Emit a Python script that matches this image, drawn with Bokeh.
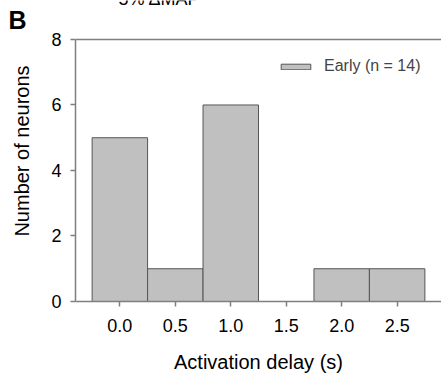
from bokeh.plotting import figure
from bokeh.models import (Span, Label, Legend, LegendItem, FixedTicker, NumeralTickFormatter,
                          ColumnDataSource, LinearAxis)
from bokeh.embed import file_html
from bokeh.resources import INLINE

bin_centers = [0.0, 0.5, 1.0, 1.5, 2.0, 2.5]
counts = [5, 1, 6, 0, 1, 1]
bin_width = 0.5
x_ticks = [0.0, 0.5, 1.0, 1.5, 2.0, 2.5]
y_ticks = [0, 2, 4, 6, 8]
legend_label = "Early (n = 14)"
panel_label = "B"
top_fragment = "5% ΔMAP"

FONT = "Liberation Sans"
AX = "#7f7f7f"
Y_MAX = 8
Y_VIEW_TOP = 9.19   # frame extends to the page top; axis stops at Y_MAX
B_POS = 8.58        # vertical position of the panel letter

p = figure(width=441, height=377, output_backend="svg", toolbar_location=None,
           x_range=(-0.4, 2.9), y_range=(0, Y_VIEW_TOP),
           min_border_left=75, min_border_right=0, min_border_top=0, min_border_bottom=76)
p.outline_line_color = None
p.grid.visible = False
p.background_fill_color = "white"

src = ColumnDataSource(dict(x=bin_centers, top=counts))
r = p.vbar(x="x", top="top", width=bin_width, source=src,
           fill_color="#c0c0c0", line_color="#555555", line_width=1)

p.add_layout(Span(location=Y_MAX, dimension="width", line_color=AX, line_width=1.5))

for ax in (p.xaxis[0], p.yaxis[0]):
    ax.axis_line_color = AX
    ax.axis_line_width = 1.5
    ax.major_tick_line_color = AX
    ax.major_tick_line_width = 1.5
    ax.major_tick_out = 5
    ax.major_tick_in = 0
    ax.minor_tick_line_color = None
    ax.major_label_text_font = FONT
    ax.major_label_text_font_size = "18px"
    ax.major_label_text_color = "black"
    ax.axis_label_text_font = FONT
    ax.axis_label_text_font_size = "20px"
    ax.axis_label_text_font_style = "normal"
    ax.axis_label_text_color = "black"

p.xaxis.ticker = FixedTicker(ticks=x_ticks)
p.xaxis.formatter = NumeralTickFormatter(format="0.0")
p.xaxis.major_label_standoff = 12
p.xaxis.axis_label = "Activation delay (s)"
p.xaxis.axis_label_standoff = 16

p.yaxis.ticker = FixedTicker(ticks=y_ticks)
p.yaxis.bounds = (0, Y_MAX)
p.yaxis.major_label_standoff = 9
p.yaxis.axis_label = "Number of neurons"
p.yaxis.axis_label_standoff = 15

# panel letter as an outer, line-less left axis label
b_axis = LinearAxis(ticker=FixedTicker(ticks=[B_POS]),
                    major_label_overrides={B_POS: panel_label},
                    axis_line_color=None, major_tick_line_color=None,
                    minor_tick_line_color=None, major_tick_out=0, major_tick_in=0,
                    major_label_standoff=-18,
                    major_label_text_font=FONT, major_label_text_font_style="bold",
                    major_label_text_font_size="25px", major_label_text_color="black")
p.add_layout(b_axis, "left")

legend = Legend(items=[LegendItem(label=legend_label, renderers=[r])],
                location=(202, 226), border_line_color=None,
                background_fill_alpha=0, glyph_width=37, glyph_height=7,
                label_text_font=FONT, label_text_font_size="16px",
                margin=0, padding=8, label_standoff=10)
p.add_layout(legend)

p.add_layout(Label(x=43, y=303, x_units="screen", y_units="screen", text=top_fragment,
                   text_baseline="alphabetic", text_color="black",
                   text_font=FONT, text_font_size="18px"))

open("out.html", "w").write(file_html(p, INLINE))
